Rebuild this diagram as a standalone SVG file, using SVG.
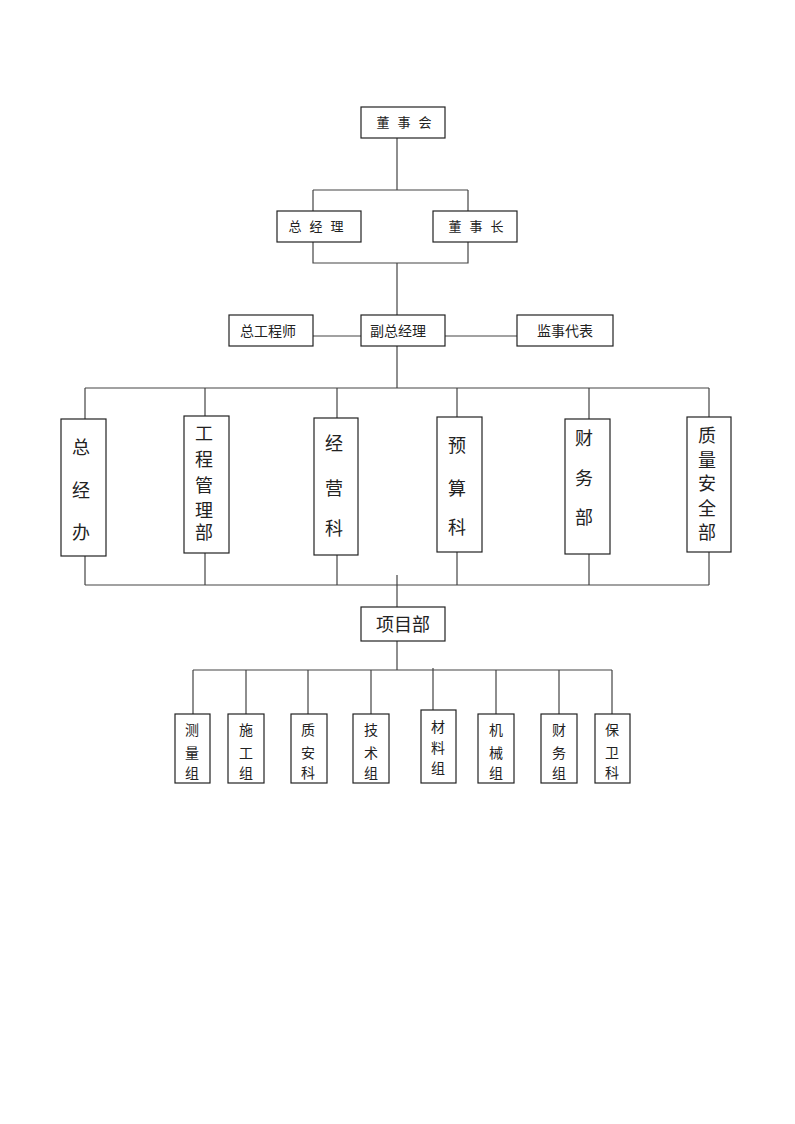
<svg xmlns="http://www.w3.org/2000/svg" width="795" height="1124" viewBox="0 0 795 1124">
<style>
.box{fill:#fff;stroke:#222;stroke-width:1.2}
.ln{fill:none;stroke:#444;stroke-width:1.2}
text{font-family:"Liberation Serif","Noto Sans CJK SC",serif;fill:#222;text-anchor:middle}
.f13{font-size:13px}
.f14{font-size:14px}
.f18{font-size:18px}
</style>
<rect width="795" height="1124" fill="#fff"/>
<g id="connectors">
<path class="ln" d="M397,138V190M313,190H468M313,190V211M468,190V211M313,242V263H468V242M397,263V316M313,336H361M445,336H517M397,346V388M85,388H709"/>
<path class="ln" d="M85,388V419M205,388V416M337,388V418M457,388V417M589,388V419M709,388V417"/>
<path class="ln" d="M85,556V585M205,553V585M337,555V585M457,552V585M589,554V585M709,552V585M85,585H709M397,575V607"/>
<path class="ln" d="M397,641V670M193,670H612M193,670V714M246,670V714M308,670V714M371,670V714M433,668V710M496,670V714M559,670V714M612,670V714"/>
</g>
<g id="n-dongshihui"><rect class="box" x="361" y="107" width="84" height="31"/><text class="f13" x="383 404 425" y="127">董事会</text></g>
<g id="n-zongjingli"><rect class="box" x="277" y="211" width="84" height="31"/><text class="f13" x="295 316 337" y="231">总经理</text></g>
<g id="n-dongshizhang"><rect class="box" x="433" y="211" width="84" height="31"/><text class="f13" x="455 476 497" y="231">董事长</text></g>
<g id="n-zonggongchengshi"><rect class="box" x="229" y="315" width="84" height="31"/><text class="f14" x="268" y="336">总工程师</text></g>
<g id="n-fuzongjingli"><rect class="box" x="361" y="315" width="84" height="31"/><text class="f14" x="398" y="336">副总经理</text></g>
<g id="n-jianshidaibiao"><rect class="box" x="517" y="315" width="96" height="31"/><text class="f14" x="565" y="336">监事代表</text></g>
<g id="n-zongjingban"><rect class="box" x="61" y="419" width="45" height="137"/><text class="f18"><tspan x="81" y="453.5">总</tspan><tspan x="81" y="496.5">经</tspan><tspan x="81" y="538.5">办</tspan></text></g>
<g id="n-gongchengguanlibu"><rect class="box" x="184" y="416" width="45" height="137"/><text class="f18"><tspan x="204" y="439.5">工</tspan><tspan x="204" y="466">程</tspan><tspan x="204" y="491.5">管</tspan><tspan x="204" y="516.5">理</tspan><tspan x="204" y="538.5">部</tspan></text></g>
<g id="n-jingyingke"><rect class="box" x="314" y="418" width="44" height="137"/><text class="f18"><tspan x="334" y="449.5">经</tspan><tspan x="334" y="494.5">营</tspan><tspan x="334" y="534.5">科</tspan></text></g>
<g id="n-yusuanke"><rect class="box" x="437" y="417" width="45" height="135"/><text class="f18"><tspan x="457" y="451.5">预</tspan><tspan x="457" y="494.5">算</tspan><tspan x="457" y="533.5">科</tspan></text></g>
<g id="n-caiwubu"><rect class="box" x="565" y="419" width="45" height="135"/><text class="f18"><tspan x="584" y="444.5">财</tspan><tspan x="584" y="484.5">务</tspan><tspan x="584" y="523.5">部</tspan></text></g>
<g id="n-zhiliang"><rect class="box" x="687" y="417" width="44" height="135"/><text class="f18"><tspan x="707" y="441.5">质</tspan><tspan x="707" y="466.5">量</tspan><tspan x="707" y="489.5">安</tspan><tspan x="707" y="514.5">全</tspan><tspan x="707" y="538.5">部</tspan></text></g>
<g id="n-xiangmubu"><rect class="box" x="361" y="607" width="84" height="34"/><text class="f18" x="403" y="630.5">项目部</text></g>
<g id="n-celiangzu"><rect class="box" x="175" y="714" width="35" height="69"/><text class="f14"><tspan x="192" y="735">测</tspan><tspan x="192" y="758">量</tspan><tspan x="192" y="778">组</tspan></text></g>
<g id="n-shigongzu"><rect class="box" x="228" y="714" width="36" height="69"/><text class="f14"><tspan x="246" y="735">施</tspan><tspan x="246" y="758">工</tspan><tspan x="246" y="778">组</tspan></text></g>
<g id="n-zhianke"><rect class="box" x="291" y="714" width="36" height="69"/><text class="f14"><tspan x="308" y="735">质</tspan><tspan x="308" y="758">安</tspan><tspan x="308" y="778">科</tspan></text></g>
<g id="n-jishuzu"><rect class="box" x="353" y="714" width="36" height="69"/><text class="f14"><tspan x="371" y="735">技</tspan><tspan x="371" y="758">术</tspan><tspan x="371" y="778">组</tspan></text></g>
<g id="n-cailiaozu"><rect class="box" x="421" y="710" width="35" height="73"/><text class="f14"><tspan x="438" y="732">材</tspan><tspan x="438" y="753">料</tspan><tspan x="438" y="773">组</tspan></text></g>
<g id="n-jixiezu"><rect class="box" x="478" y="714" width="36" height="69"/><text class="f14"><tspan x="496" y="735">机</tspan><tspan x="496" y="758">械</tspan><tspan x="496" y="778">组</tspan></text></g>
<g id="n-caiwuzu"><rect class="box" x="541" y="714" width="36" height="69"/><text class="f14"><tspan x="559" y="735">财</tspan><tspan x="559" y="758">务</tspan><tspan x="559" y="778">组</tspan></text></g>
<g id="n-baoweike"><rect class="box" x="595" y="714" width="35" height="69"/><text class="f14"><tspan x="612" y="735">保</tspan><tspan x="612" y="758">卫</tspan><tspan x="612" y="778">科</tspan></text></g>
</svg>
